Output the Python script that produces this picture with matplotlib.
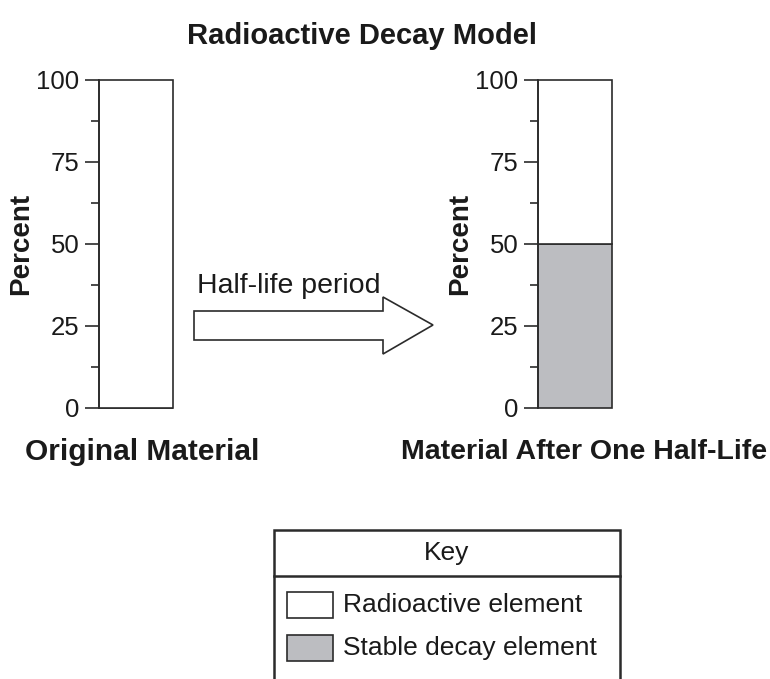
import matplotlib.pyplot as plt
from matplotlib.patches import Polygon, Rectangle

# -----------------------------
# DATA
# -----------------------------
panel_titles = ['Original Material', 'Material After One Half-Life']
radioactive_pct = [100, 50]
stable_pct = [0, 50]
major_ticks = [0, 25, 50, 75, 100]
minor_ticks = [12.5, 37.5, 62.5, 87.5]
key_labels = ['Radioactive element', 'Stable decay element']

# -----------------------------
# STYLE
# -----------------------------
W, H = 770, 679
line_col = '#2b2b2b'
grey = '#bcbdc1'
lw = 1.2
plt.rcParams['font.family'] = ['Liberation Sans', 'DejaVu Sans']


def fx(x):
    return x / W


def fy(y):
    return 1 - y / H


fig = plt.figure(figsize=(W / 100, H / 100), dpi=100)

# axes boxes in pixel units: (left, top, right, bottom)
boxes = [(99, 79.5, 173, 407.7), (538, 79.5, 612, 407.7)]
label_x = [142, 584]
label_size = [21.5, 20.5]

for i, (l, t, r, b) in enumerate(boxes):
    ax = fig.add_axes([fx(l), fy(b), (r - l) / W, (b - t) / H])
    ax.bar(0, stable_pct[i], width=1, bottom=0, color=grey,
           edgecolor=line_col, linewidth=lw, clip_on=False)
    ax.bar(0, radioactive_pct[i], width=1, bottom=stable_pct[i], color='white',
           edgecolor=line_col, linewidth=lw, clip_on=False)
    ax.set_xlim(-0.5, 0.5)
    ax.set_ylim(0, 100)
    for s in ['top', 'right', 'bottom']:
        ax.spines[s].set_visible(False)
    ax.spines['left'].set_color(line_col)
    ax.spines['left'].set_linewidth(lw)
    ax.set_xticks([])
    ax.set_yticks(major_ticks)
    ax.set_yticks(minor_ticks, minor=True)
    ax.tick_params(axis='y', which='major', length=10, width=lw, color=line_col,
                   pad=4, labelsize=18.5, labelcolor='#1a1a1a')
    ax.tick_params(axis='y', which='minor', length=6, width=lw, color=line_col)
    ax.set_ylabel('Percent', fontsize=20, fontweight='bold', color='#1a1a1a')
    ax.yaxis.set_label_coords(-65 / (r - l), 0.5)
    ax.patch.set_visible(False)
    fig.text(fx(label_x[i]), fy(452), panel_titles[i], ha='center', va='center',
             fontsize=label_size[i], fontweight='bold', color='#1a1a1a')

fig.text(fx(362), fy(36), 'Radioactive Decay Model', ha='center', va='center',
         fontsize=21, fontweight='bold', color='#1a1a1a')

# half-life arrow
arrow_pts = [(194, 311), (383, 311), (383, 297), (433, 325),
             (383, 354), (383, 340), (194, 340)]
fig.patches.append(Polygon([(fx(x), fy(y)) for x, y in arrow_pts], closed=True,
                           transform=fig.transFigure, facecolor='white',
                           edgecolor=line_col, linewidth=lw))
fig.text(fx(197), fy(293), 'Half-life period', ha='left', va='baseline',
         fontsize=20.5, color='#1a1a1a')

# key box
kl, kt, kr, kb = 274, 530, 620, 700
fig.patches.append(Rectangle((fx(kl), fy(kb)), (kr - kl) / W, (kb - kt) / H,
                             transform=fig.transFigure, facecolor='white',
                             edgecolor=line_col, linewidth=1.8))
fig.add_artist(plt.Line2D([fx(kl), fx(kr)], [fy(576), fy(576)],
                          transform=fig.transFigure, color=line_col, linewidth=1.8))
fig.text(fx(447), fy(553), 'Key', ha='center', va='center', fontsize=19,
         color='#1a1a1a')
swatch_cols = ['white', grey]
swatch_top = [592, 635]
for lab, col, st in zip(key_labels, swatch_cols, swatch_top):
    fig.patches.append(Rectangle((fx(287), fy(st + 26)), 46 / W, 26 / H,
                                 transform=fig.transFigure, facecolor=col,
                                 edgecolor=line_col, linewidth=lw))
    fig.text(fx(343), fy(st + 13), lab, ha='left', va='center', fontsize=19,
             color='#1a1a1a')

fig.savefig('out.png', dpi=100)
